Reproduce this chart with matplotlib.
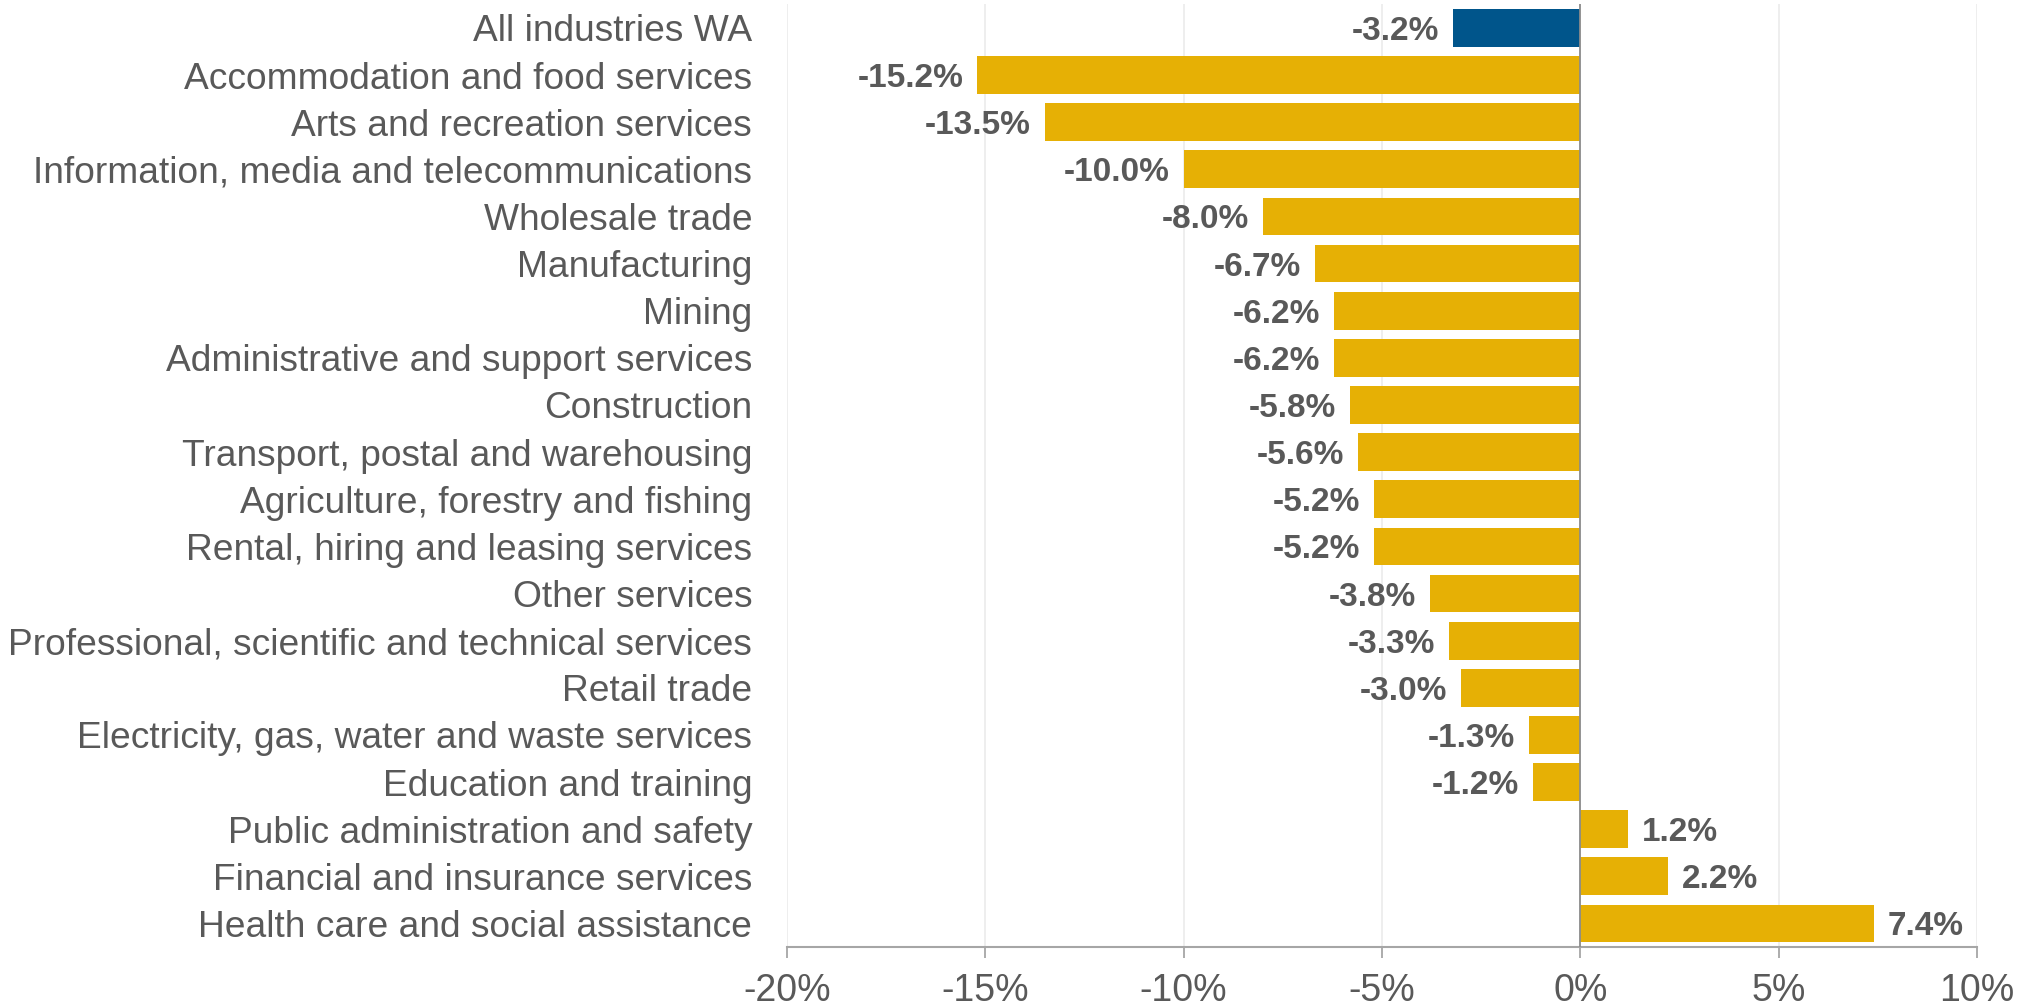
import matplotlib
matplotlib.use("Agg")
import matplotlib.pyplot as plt
from matplotlib.ticker import FuncFormatter

categories = [
    "All industries WA",
    "Accommodation and food services",
    "Arts and recreation services",
    "Information, media and telecommunications",
    "Wholesale trade",
    "Manufacturing",
    "Mining",
    "Administrative and support services",
    "Construction",
    "Transport, postal and warehousing",
    "Agriculture, forestry and fishing",
    "Rental, hiring and leasing services",
    "Other services",
    "Professional, scientific and technical services",
    "Retail trade",
    "Electricity, gas, water and waste services",
    "Education and training",
    "Public administration and safety",
    "Financial and insurance services",
    "Health care and social assistance",
]
values = [-3.2, -15.2, -13.5, -10.0, -8.0, -6.7, -6.2, -6.2, -5.8, -5.6,
          -5.2, -5.2, -3.8, -3.3, -3.0, -1.3, -1.2, 1.2, 2.2, 7.4]
x_ticks = [-20, -15, -10, -5, 0, 5, 10]

plt.rcParams['font.family'] = ['Liberation Sans', 'DejaVu Sans']
GOLD = "#E6B005"
BLUE = "#00558B"
TXT = "#595959"

fig = plt.figure(figsize=(20.34, 10.06), dpi=100)
ax = fig.add_axes([0.3869, 0.0586, 0.972 - 0.3869, 0.9957 - 0.0586])

ypos = list(range(len(categories)))
colors = [BLUE] + [GOLD] * (len(categories) - 1)
ax.barh(ypos, values, height=0.8, color=colors, zorder=3)

for y, v in zip(ypos, values):
    if v < 0:
        ax.annotate(f"{v:.1f}%", xy=(v, y), xytext=(-10, 0),
                    textcoords="offset points", ha="right", va="center_baseline",
                    fontsize=24, fontweight="bold", color=TXT, zorder=4)
    else:
        ax.annotate(f"{v:.1f}%", xy=(v, y), xytext=(10, 0),
                    textcoords="offset points", ha="left", va="center_baseline",
                    fontsize=24, fontweight="bold", color=TXT, zorder=4)

ax.set_xlim(-20, 10)
ax.set_ylim(len(categories) - 0.5, -0.5)
ax.set_yticks(ypos)
ax.set_yticklabels(categories)
ax.set_xticks(x_ticks)
ax.xaxis.set_major_formatter(FuncFormatter(lambda v, p: f"{v:.0f}%"))

ax.grid(axis="x", color="#EBEBEB", linewidth=1.2, zorder=0)
ax.axvline(0, color="#8C8C8C", linewidth=1.3, zorder=5)

for s in ["top", "right", "left"]:
    ax.spines[s].set_visible(False)
ax.spines["bottom"].set_color("#A6A6A6")
ax.spines["bottom"].set_linewidth(1.5)

ax.tick_params(axis="y", length=0, pad=25, labelsize=26.7, labelcolor=TXT)
ax.tick_params(axis="x", length=8, width=1.3, color="#A6A6A6", pad=11,
               labelsize=27, labelcolor=TXT)

fig.savefig("out.png", dpi=100)
